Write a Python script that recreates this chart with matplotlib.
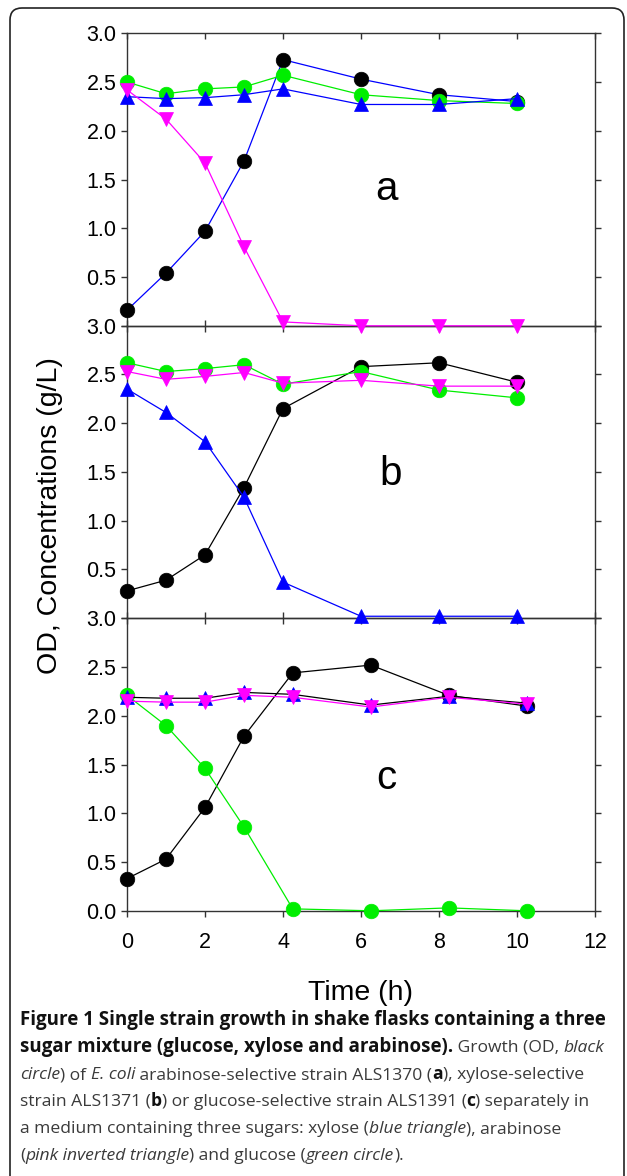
import matplotlib
matplotlib.use("Agg")
import matplotlib.pyplot as plt
from matplotlib.patches import FancyBboxPatch
from matplotlib.transforms import IdentityTransform
from matplotlib.font_manager import FontProperties

# ---------------- data ----------------
time_ab = [0, 1, 2, 3, 4, 6, 8, 10]
time_c = [0, 1, 2, 3, 4.25, 6.25, 8.25, 10.25]

# panel a (arabinose-selective strain ALS1370)
a_od = [0.16, 0.54, 0.97, 1.69, 2.73, 2.53, 2.37, 2.30]
a_glucose = [2.50, 2.38, 2.43, 2.45, 2.57, 2.37, 2.31, 2.28]
a_xylose = [2.35, 2.33, 2.34, 2.37, 2.43, 2.27, 2.27, 2.33]
a_arabinose = [2.42, 2.12, 1.67, 0.81, 0.04, 0.0, 0.0, 0.0]

# panel b (xylose-selective strain ALS1371)
b_od = [0.28, 0.39, 0.65, 1.34, 2.15, 2.58, 2.62, 2.42]
b_glucose = [2.62, 2.53, 2.56, 2.60, 2.40, 2.53, 2.34, 2.26]
b_xylose = [2.35, 2.11, 1.81, 1.24, 0.37, 0.02, 0.02, 0.02]
b_arabinose = [2.53, 2.45, 2.48, 2.52, 2.41, 2.44, 2.38, 2.38]

# panel c (glucose-selective strain ALS1391)
c_od = [0.33, 0.53, 1.06, 1.79, 2.44, 2.52, 2.21, 2.10]
c_glucose = [2.21, 1.90, 1.46, 0.86, 0.02, 0.0, 0.03, 0.0]
c_xylose = [2.19, 2.18, 2.18, 2.24, 2.22, 2.11, 2.20, 2.13]
c_arabinose = [2.15, 2.14, 2.14, 2.21, 2.19, 2.09, 2.19, 2.12]

panel_letters = ["a", "b", "c"]
yticks = [0.0, 0.5, 1.0, 1.5, 2.0, 2.5, 3.0]
xticks = [0, 2, 4, 6, 8, 10, 12]

# ---------------- figure ----------------
W, H = 627, 1176
DPI = 100
fig = plt.figure(figsize=(W / DPI, H / DPI), dpi=DPI)
fig.patch.set_facecolor("white")

TICKFONT = "Liberation Sans"
left_px, right_px = 127, 595
tops = [33.3, 325.7, 618.3]
ph = 292.5

GREEN = "#00ee00"
BLUE = "#0000ff"
PINK = "#ff00ff"
BLACK = "#000000"
MS = 10.5

panels = [
    (time_ab, a_od, a_glucose, a_xylose, a_arabinose, BLUE, BLUE),
    (time_ab, b_od, b_glucose, b_xylose, b_arabinose, BLACK, BLUE),
    (time_c, c_od, c_glucose, c_xylose, c_arabinose, BLACK, BLACK),
]
letter_pos = [(6.65, 1.40), (6.75, 1.48), (6.65, 1.36)]

axes = []
for i, (t, od, glu, xyl, ara, odline, xylline) in enumerate(panels):
    top = tops[i]
    ax = fig.add_axes([left_px / W, 1 - (top + ph) / H,
                       (right_px - left_px) / W, ph / H])
    ax.patch.set_visible(False)
    ax.set_zorder(10 - i)
    axes.append(ax)
    ax.plot(t, od, color=odline, lw=0.9, marker="o", ms=MS,
            mfc=BLACK, mec=BLACK, mew=0.5, zorder=3, clip_on=False)
    ax.plot(t, glu, color=GREEN, lw=0.9, marker="o", ms=MS,
            mfc=GREEN, mec=GREEN, mew=0.5, zorder=4, clip_on=False)
    ax.plot(t, xyl, color=xylline, lw=0.9, marker="^", ms=MS,
            mfc=BLUE, mec=BLUE, mew=0.5, zorder=5, clip_on=False)
    ax.plot(t, ara, color=PINK, lw=0.9, marker="v", ms=MS,
            mfc=PINK, mec=PINK, mew=0.5, zorder=6, clip_on=False)

    ax.set_xlim(0, 12)
    ax.set_ylim(0, 3)
    ax.set_yticks(yticks)
    labels = ["%.1f" % v for v in yticks]
    if i < 2:
        labels[0] = ""
    ax.set_yticklabels(labels, fontfamily=TICKFONT, fontsize=15.5)
    ax.set_xticks(xticks)
    ax.tick_params(axis="y", which="both", left=True, right=True,
                   direction="out", length=4.5, width=1, color="#333333",
                   pad=3)
    if i < 2:
        ax.tick_params(axis="x", top=True, bottom=True, direction="in",
                       length=4, width=1, color="#333333", labelbottom=False)
    else:
        ax.tick_params(axis="x", top=True, bottom=True, direction="out",
                       length=4, width=1, color="#333333", pad=11)
        ax.set_xticklabels([str(v) for v in xticks], fontfamily=TICKFONT,
                           fontsize=15.5)
    for sp in ax.spines.values():
        sp.set_color("#333333")
        sp.set_linewidth(1)
    ax.text(letter_pos[i][0], letter_pos[i][1], panel_letters[i],
            fontfamily=TICKFONT, fontsize=29, ha="center", va="center")

# in panel c the top ticks point inward
for tk in axes[2].xaxis.get_major_ticks():
    tk.tick2line.set_marker(3)

axes[2].set_xlabel("Time (h)", fontfamily=TICKFONT, fontsize=20.5, labelpad=20)
fig.text(50 / W, 1 - 516 / H, "OD, Concentrations (g/L)", rotation=90,
         fontfamily=TICKFONT, fontsize=20.5, ha="center", va="center")

# ---------------- border ----------------
border = FancyBboxPatch((10, -20), 614, H - 8 + 20,
                        boxstyle="round,pad=0,rounding_size=12",
                        transform=IdentityTransform(), fill=False,
                        ec="#222222", lw=1.2, clip_on=False)
fig.add_artist(border)

# ---------------- caption ----------------
CAPFONT = "Open Sans"
SIZE_B = 13.5
SIZE_N = 12.6
cap_lines = [
    [("Figure 1 Single strain growth in shake flasks containing a three", "b")],
    [("sugar mixture (glucose, xylose and arabinose).", "b"),
     (" Growth (OD, ", "n"), ("black", "i")],
    [("circle", "i"), (") of ", "n"), ("E. coli", "i"),
     (" arabinose-selective strain ALS1370 (", "n"), ("a", "b"),
     ("), xylose-selective", "n")],
    [("strain ALS1371 (", "n"), ("b", "b"),
     (") or glucose-selective strain ALS1391 (", "n"), ("c", "b"),
     (") separately in", "n")],
    [("a medium containing three sugars: xylose (", "n"),
     ("blue triangle", "i"), ("), arabinose", "n")],
    [("(", "n"), ("pink inverted triangle", "i"), (") and glucose (", "n"),
     ("green circle", "i"), (").", "n")],
]
baselines = [1025, 1052, 1079, 1106, 1133, 1160]
renderer = fig.canvas.get_renderer()


def props(style, single=False):
    if style == "b":
        size = SIZE_B if not single else SIZE_N
        return FontProperties(family=CAPFONT, size=size, weight="bold")
    return FontProperties(family=CAPFONT, size=SIZE_N,
                          style="italic" if style == "i" else "normal")


def advance(s, fp):
    w1, _, _ = renderer.get_text_width_height_descent("x" + s + "x", fp, ismath=False)
    w0, _, _ = renderer.get_text_width_height_descent("xx", fp, ismath=False)
    return w1 - w0


for line, yb in zip(cap_lines, baselines):
    x = 20.0
    for s, st in line:
        fp = props(st, single=(len(s) == 1))
        col = "#111111" if st == "b" else "#3a3a3a"
        fig.text(x / W, 1 - yb / H, s, fontproperties=fp, color=col,
                 ha="left", va="baseline")
        x += advance(s, fp)

fig.savefig("out.png", dpi=DPI)
